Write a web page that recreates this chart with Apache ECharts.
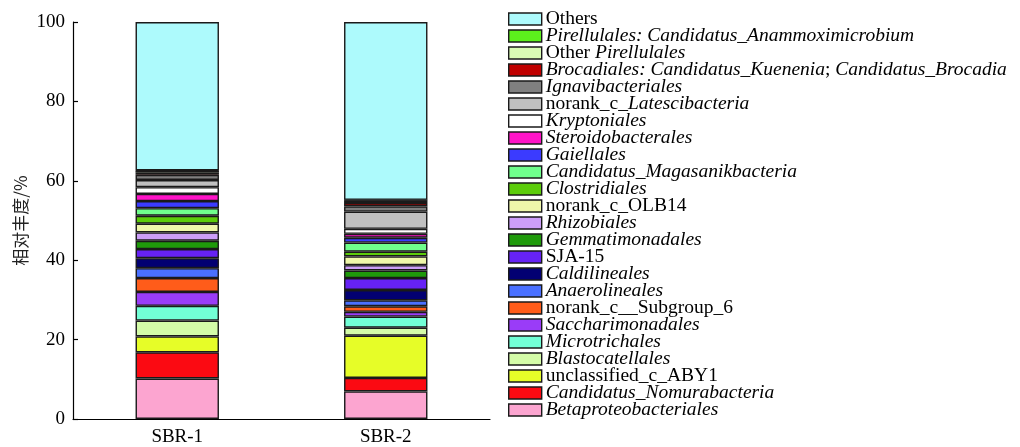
<!DOCTYPE html>
<html>
<head>
<meta charset="utf-8">
<script src="https://cdn.jsdelivr.net/npm/echarts@6/dist/echarts.min.js"></script>
<style>
html,body{margin:0;padding:0;background:#fff;}
#chart{width:1020px;height:447px;}
</style>
</head>
<body>
<div id="chart"></div>
<script>
// Categories (samples)
const categories = ['SBR-1', 'SBR-2'];

// Taxa from bottom of the stack to the top
const taxa = [
  'Betaproteobacteriales', 'Candidatus_Nomurabacteria', 'unclassified_c_ABY1', 'Blastocatellales',
  'Microtrichales', 'Saccharimonadales', 'norank_c__Subgroup_6', 'Anaerolineales',
  'Caldilineales', 'SJA-15', 'Gemmatimonadales', 'Rhizobiales',
  'norank_c_OLB14', 'Clostridiales', 'Candidatus_Magasanikbacteria', 'Gaiellales',
  'Steroidobacterales', 'Kryptoniales', 'norank_c_Latescibacteria', 'Ignavibacteriales',
  'Brocadiales', 'Other Pirellulales', 'Pirellulales Anammox', 'Others'
];

// Legend labels (rich-text markup: i = italic, n = upright)
const legendLabels = [
  '{i|Betaproteobacteriales}', '{i|Candidatus_Nomurabacteria}', '{n|unclassified_c_ABY1}', '{i|Blastocatellales}',
  '{i|Microtrichales}', '{i|Saccharimonadales}', '{n|norank_c__Subgroup_6}', '{i|Anaerolineales}',
  '{i|Caldilineales}', '{n|SJA-15}', '{i|Gemmatimonadales}', '{i|Rhizobiales}',
  '{n|norank_c_OLB14}', '{i|Clostridiales}', '{i|Candidatus_Magasanikbacteria}', '{i|Gaiellales}',
  '{i|Steroidobacterales}', '{i|Kryptoniales}', '{n|norank_c_}{i|Latescibacteria}', '{i|Ignavibacteriales}',
  '{i|Brocadiales: Candidatus_Kuenenia}{n|; }{i|Candidatus_Brocadia}', '{n|Other }{i|Pirellulales}',
  '{i|Pirellulales: Candidatus_Anammoximicrobium}', '{n|Others}'
];

const colors = [
  '#fca5d0', '#fb0a12', '#e6fd28', '#d4fca8',
  '#72ffd6', '#9a3cf8', '#ff5c1a', '#4a70ff',
  '#020072', '#6622f5', '#1f9a0a', '#cc9ef8',
  '#eff7aa', '#5ccc0a', '#70ff8c', '#3b3bff',
  '#ff14c8', '#ffffff', '#c0c0c0', '#808080',
  '#c00000', '#d9fcb4', '#5cf01c', '#adfafc'
];

// Relative abundance (%), same order as taxa
const sbr1 = [10.2, 6.6, 4.0, 4.0, 3.7, 3.5, 3.5, 2.5, 2.5, 2.3, 2.1, 2.1, 2.2, 2.0, 1.9, 1.8, 1.8, 1.7, 1.8, 1.3, 0.5, 0.5, 0.1, 37.4];
const sbr2 = [6.95, 3.4, 10.65, 2.0, 2.8, 1.2, 1.4, 1.5, 2.6, 3.0, 1.9, 1.35, 2.2, 1.2, 2.3, 1.2, 1.0, 1.25, 4.35, 1.3, 0.85, 0.7, 0.1, 44.8];

// Y-axis
const yMin = 0, yMax = 100, yStep = 20;
const yName = '相对丰度/%';

const serif = '"Liberation Serif", "DejaVu Serif", serif';
const labelMap = {};
taxa.forEach((t, i) => { labelMap[t] = legendLabels[i]; });

const series = taxa.map((t, i) => ({
  name: t,
  type: 'bar',
  stack: 'total',
  barWidth: '40%',
  data: [sbr1[i], sbr2[i]],
  itemStyle: { color: colors[i], borderColor: '#1a1a1a', borderWidth: 1.4 },
  emphasis: { disabled: true }
}));

const chart = echarts.init(document.getElementById('chart'), null, { renderer: 'canvas' });
chart.setOption({
  animation: false,
  grid: { left: 73, right: 530, top: 22, bottom: 28 },
  legend: {
    orient: 'vertical',
    left: 508,
    top: 9,
    padding: 0,
    icon: 'rect',
    itemWidth: 33,
    itemHeight: 12,
    itemGap: -3.0,
    selectedMode: false,
    data: taxa.slice().reverse(),
    formatter: (name) => labelMap[name],
    textStyle: {
      fontFamily: serif, fontSize: 19.5, color: '#000', lineHeight: 17, padding: [0, 0, 0, -1],
      rich: {
        i: { fontFamily: serif, fontSize: 19.5, fontStyle: 'italic', color: '#000', lineHeight: 17 },
        n: { fontFamily: serif, fontSize: 19.5, color: '#000', lineHeight: 17 }
      }
    },
    itemStyle: { borderColor: '#1a1a1a', borderWidth: 1.4 }
  },
  xAxis: {
    type: 'category',
    data: categories,
    boundaryGap: true,
    axisLine: { lineStyle: { color: '#000', width: 1.2 } },
    axisTick: { inside: true, length: 5, alignWithLabel: false, lineStyle: { color: '#000', width: 1.2 } },
    axisLabel: { fontFamily: serif, fontSize: 19, color: '#000', margin: 9 }
  },
  yAxis: {
    type: 'value',
    min: yMin, max: yMax, interval: yStep,
    name: yName,
    nameLocation: 'middle',
    nameGap: 44,
    nameTextStyle: { fontFamily: '"Noto Sans CJK SC", sans-serif', fontSize: 17, color: '#222' },
    axisLine: { show: true, lineStyle: { color: '#000', width: 1.2 } },
    axisTick: { show: true, inside: true, length: 5, lineStyle: { color: '#000', width: 1.2 } },
    axisLabel: { fontFamily: serif, fontSize: 19, color: '#000', margin: 8 },
    splitLine: { show: false }
  },
  series: series
});
</script>
</body>
</html>
